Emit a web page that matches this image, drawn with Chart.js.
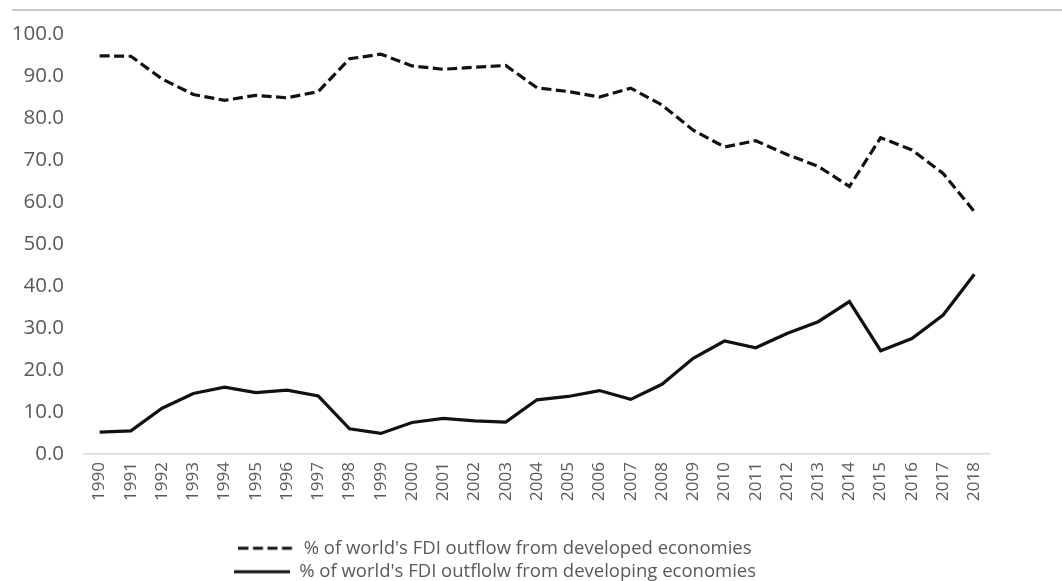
<!DOCTYPE html>
<html>
<head>
<meta charset="utf-8">
<title>FDI outflow shares, 1990-2018</title>
<script src="https://cdn.jsdelivr.net/npm/chart.js@4.4.1/dist/chart.umd.min.js"></script>
<style>
  html, body { margin: 0; padding: 0; background: #ffffff; overflow: hidden; }
  #wrap { position: relative; width: 1062px; height: 581px; }
  #rule { position: absolute; left: 12px; right: 0; top: 9px; height: 0; border-top: 2px solid #c9c9c9; }
  #chart { position: absolute; left: 0; top: 0; }
</style>
</head>
<body>
<div id="wrap">
  <div id="rule"></div>
  <canvas id="chart" width="1062" height="581"></canvas>
</div>
<script>
// Years on the category axis
const years = [
  '1990','1991','1992','1993','1994','1995','1996','1997','1998','1999',
  '2000','2001','2002','2003','2004','2005','2006','2007','2008','2009',
  '2010','2011','2012','2013','2014','2015','2016','2017','2018'
];

// Share of world FDI outflow (%) from developed economies
const developedShare = [
  94.8, 94.7, 89.3, 85.6, 84.2, 85.4, 84.8, 86.3, 94.1, 95.2,
  92.4, 91.6, 92.1, 92.5, 87.2, 86.3, 85.0, 87.1, 83.1, 77.1,
  73.1, 74.6, 71.3, 68.5, 63.7, 75.3, 72.4, 66.8, 57.7
];

// Share of world FDI outflow (%) from developing economies
const developingShare = [
  5.2, 5.5, 10.9, 14.4, 15.9, 14.6, 15.2, 13.8, 6.0, 4.9,
  7.5, 8.5, 7.9, 7.6, 12.9, 13.7, 15.1, 13.0, 16.6, 22.8,
  26.9, 25.3, 28.7, 31.5, 36.3, 24.6, 27.5, 33.1, 42.8
];

// Value-axis ticks
const yTicks = [0, 10, 20, 30, 40, 50, 60, 70, 80, 90, 100];

const seriesNames = [
  "% of world's FDI outflow from developed economies",
  "% of world's FDI outflolw from developing economies"
];

const textGrey = '#595959';
const lineColour = '#111111';
const fontFamily = '"Open Sans", Lato, "Liberation Sans", sans-serif';
const dashPattern = [10, 4.5];
const swatchWidth = 56;

// Small line swatches for the legend (dashed and solid)
function legendSwatch(dash) {
  const c = document.createElement('canvas');
  c.width = swatchWidth;
  c.height = 6;
  const g = c.getContext('2d');
  g.strokeStyle = lineColour;
  g.lineWidth = 3.2;
  g.setLineDash(dash);
  g.beginPath();
  g.moveTo(0, 3);
  g.lineTo(swatchWidth, 3);
  g.stroke();
  return c;
}

new Chart(document.getElementById('chart'), {
  type: 'line',
  data: {
    labels: years,
    datasets: [
      {
        label: seriesNames[0],
        data: developedShare,
        borderColor: lineColour,
        backgroundColor: lineColour,
        borderWidth: 3.2,
        borderDash: dashPattern,
        borderCapStyle: 'butt',
        tension: 0,
        pointRadius: 0,
        pointStyle: legendSwatch(dashPattern),
        fill: false
      },
      {
        label: seriesNames[1],
        data: developingShare,
        borderColor: lineColour,
        backgroundColor: lineColour,
        borderWidth: 3.2,
        tension: 0,
        pointRadius: 0,
        pointStyle: legendSwatch([]),
        fill: false
      }
    ]
  },
  options: {
    responsive: false,
    animation: false,
    devicePixelRatio: 1,
    layout: { padding: { left: 0, right: 72, top: 34, bottom: 0 } },
    plugins: {
      tooltip: { enabled: false },
      legend: {
        position: 'bottom',
        align: 'center',
        maxHeight: 47,
        labels: {
          usePointStyle: true,
          pointStyleWidth: swatchWidth,
          boxHeight: 18,
          padding: 5,
          color: textGrey,
          font: { family: fontFamily, size: 18.5 }
        }
      }
    },
    scales: {
      x: {
        type: 'category',
        offset: true,
        grid: { display: false, drawTicks: false },
        border: { display: true, color: '#d9d9d9', width: 1.5 },
        ticks: {
          autoSkip: false,
          minRotation: 90,
          maxRotation: 90,
          padding: 8,
          color: textGrey,
          font: { family: fontFamily, size: 17 }
        },
        afterFit: (scale) => { scale.height = 80; }
      },
      y: {
        min: 0,
        max: 100,
        grid: { display: false, drawTicks: false },
        border: { display: false },
        afterBuildTicks: (scale) => { scale.ticks = yTicks.map(v => ({ value: v })); },
        ticks: {
          padding: 20,
          color: textGrey,
          font: { family: fontFamily, size: 20.5 },
          callback: (v) => Number(v).toFixed(1)
        },
        afterFit: (scale) => { scale.width = 84; }
      }
    }
  }
});
</script>
</body>
</html>
